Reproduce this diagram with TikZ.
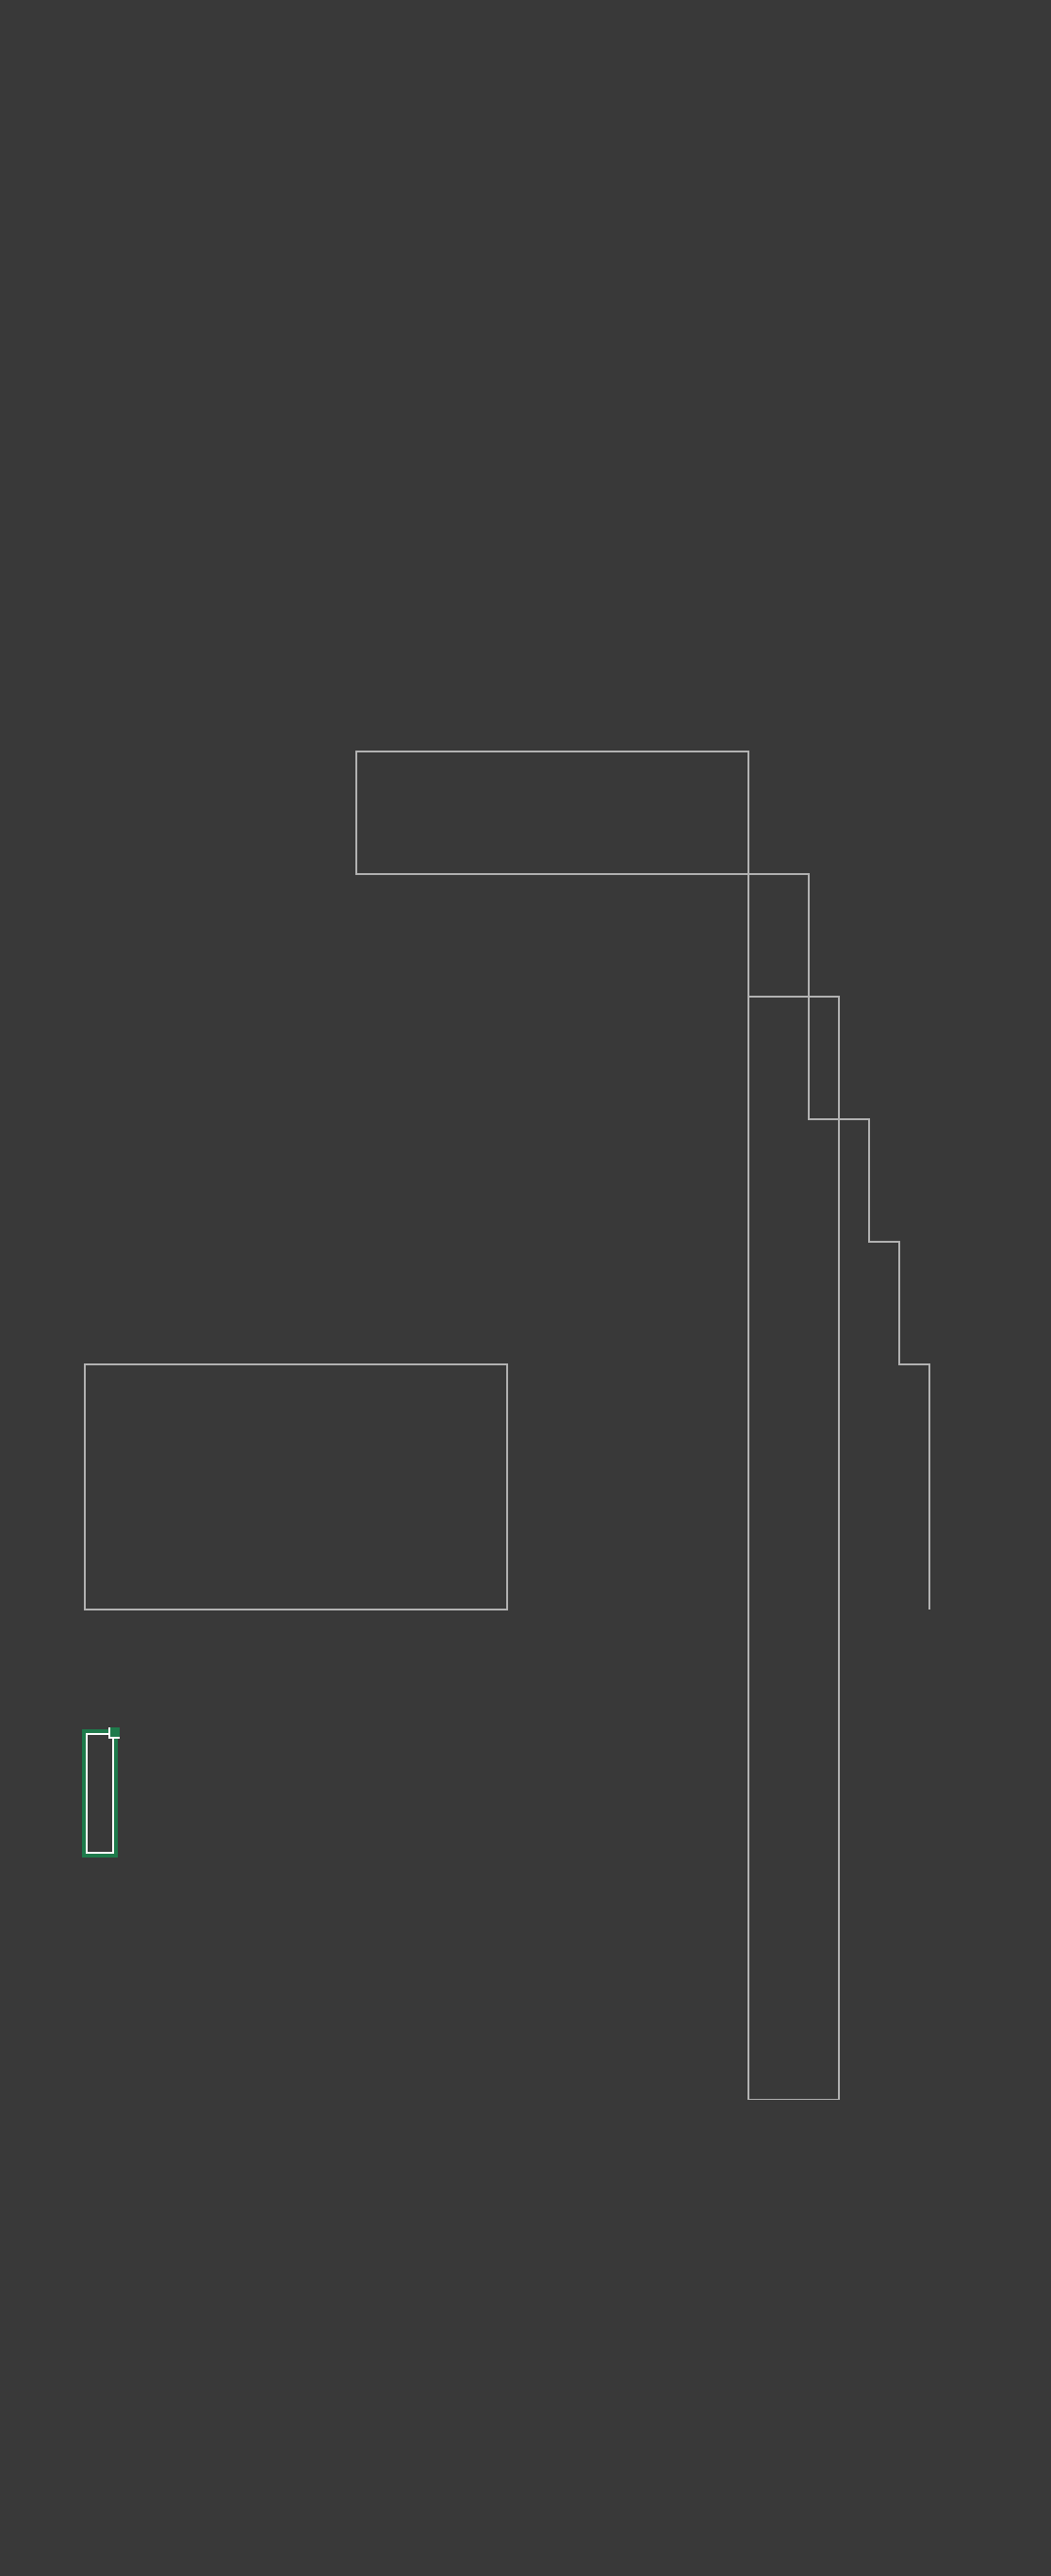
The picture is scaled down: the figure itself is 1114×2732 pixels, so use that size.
\documentclass[tikz,border=0pt]{standalone}
\usepackage{tikz}
\usetikzlibrary{arrows.meta}
\definecolor{bgdark}{HTML}{393939}
\definecolor{wire}{HTML}{B2B2B2}
\definecolor{selgreen}{HTML}{1E7A4B}

\begin{document}
\begin{tikzpicture}[x=1pt,y=-1pt,line join=miter,
  outline/.style={draw=wire, line width=1.7pt}]
% ==================== CANVAS ====================
\useasboundingbox (0,0) rectangle (1114,2732);
\fill[bgdark] (-6,-6) rectangle (1120,2738);

% ==================== BLOCKS ====================
% Top block
\draw[outline] (378,797) rectangle (794,927);
% Tall column
\draw[outline] (794,1057) rectangle (890,2226.5);
% Left block
\draw[outline] (90,1447) rectangle (538,1707);

% ==================== STAIR LINE ====================
\coordinate (topcorner) at (794,927);
\coordinate (stairend) at (986,1707);
\draw[outline] (794,1057) -- (topcorner) -- (858,927) -- (858,1187)
  -- (922,1187) -- (922,1317) -- (954,1317) -- (954,1447)
  -- (986,1447) -- (stairend);

% ==================== SELECTED ITEM ====================
\draw[selgreen, line width=4pt] (89,1836) rectangle (123,1967.7);
\draw[white, line width=2pt] (92,1839) rectangle (120,1964.7);
% Handle
\fill[selgreen] (116,1832) rectangle (127,1842.7);
\draw[white, line width=2pt] (116,1832) -- (116,1842.7) -- (127,1842.7);
\end{tikzpicture}
\end{document}
